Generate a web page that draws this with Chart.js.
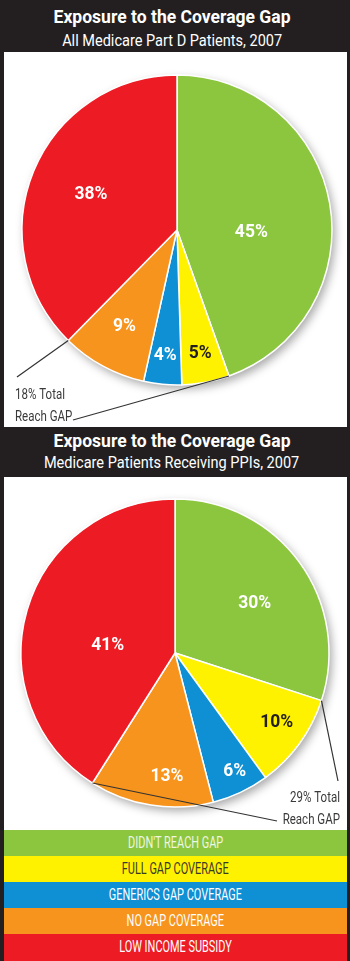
<!DOCTYPE html>
<html>
<head>
<meta charset="utf-8">
<script src="https://cdn.jsdelivr.net/npm/chart.js@4.4.0/dist/chart.umd.min.js"></script>
<style>
  html, body { margin:0; padding:0; }
  body { width:350px; height:961px; background:#231f20; position:relative; overflow:hidden; font-family:Roboto, sans-serif; }
  .line { position:absolute; left:0; width:344px; text-align:center; white-space:nowrap; color:#fff; }
  .line span { display:inline-block; transform-origin:50% 50%; }
  .panel { position:absolute; left:4px; width:343px; background:#fff; }
  .panel canvas { position:absolute; left:0; top:0; }
  #legend { position:absolute; left:4px; top:830px; width:343px; }
  #legend div { height:26px; line-height:26px; text-align:center; white-space:nowrap; }
  #legend span { display:inline-block; }
</style>
</head>
<body>
<div class="line" id="t1" style="top:6px;"></div>
<div class="line" id="s1" style="top:31px;"></div>
<div class="panel" style="top:52px;height:375px;"><canvas id="c1" width="343" height="375"></canvas></div>
<div class="line" id="t2" style="top:430px;"></div>
<div class="line" id="s2" style="top:453px;"></div>
<div class="panel" style="top:477px;height:353px;"><canvas id="c2" width="343" height="353"></canvas></div>
<div id="legend"></div>
<script>
// ---- data ----
const categories = ["DIDN'T REACH GAP", "FULL GAP COVERAGE", "GENERICS GAP COVERAGE", "NO GAP COVERAGE", "LOW INCOME SUBSIDY"];
const allPartD = [45, 5, 4, 9, 38];
const ppiPatients = [30, 10, 6, 13, 41];
const title1 = "Exposure to the Coverage Gap";
const subtitle1 = "All Medicare Part D Patients, 2007";
const title2 = "Exposure to the Coverage Gap";
const subtitle2 = "Medicare Patients Receiving PPIs, 2007";
const note1 = ["18% Total", "Reach GAP"];
const note2 = ["29% Total", "Reach GAP"];

// ---- styles ----
const colors = ["#8cc63f", "#fff200", "#0f8fd4", "#f7941d", "#ed1c24"];
const legendText = ["#eef5e2", "#3a3a2a", "#ffffff", "#ffffff", "#ffffff"];
const labelText = ["#ffffff", "#231f20", "#ffffff", "#ffffff", "#ffffff"];
const FONT = 'Roboto, sans-serif';

const mctx = document.createElement('canvas').getContext('2d');
function measure(font, text) { mctx.font = font; return mctx.measureText(text).width; }

// condensed look: horizontal squeeze factors derived from reference widths
const TITLE_FONT = 'bold 18.5px ' + FONT;
const SUB_FONT = '16px ' + FONT;
const LEG_FONT = '16px ' + FONT;
const PCT_FONT = 'bold 18.5px ' + FONT;
const NOTE_FONT = '14px ' + FONT;
const titleScale = 237 / measure(TITLE_FONT, title1);
const subScale = 220 / measure(SUB_FONT, subtitle1);
const legScale = 133 / measure(LEG_FONT, categories[2]);
const pctScale = 33 / measure(PCT_FONT, '45%');
const noteScale = 50 / measure(NOTE_FONT, '18% Total');

function setLine(id, text, font, scale) {
  const el = document.getElementById(id);
  const sp = document.createElement('span');
  sp.textContent = text;
  sp.style.font = font;
  sp.style.transform = 'scaleX(' + scale + ')';
  el.appendChild(sp);
}
setLine('t1', title1, TITLE_FONT, titleScale);
setLine('s1', subtitle1, SUB_FONT, subScale);
setLine('t2', title2, TITLE_FONT, titleScale);
setLine('s2', subtitle2, SUB_FONT, subScale);

const leg = document.getElementById('legend');
categories.forEach((c, i) => {
  const d = document.createElement('div');
  d.style.background = colors[i];
  d.style.color = legendText[i];
  const sp = document.createElement('span');
  sp.textContent = c;
  sp.style.font = LEG_FONT;
  sp.style.transform = 'scaleX(' + legScale + ')';
  d.appendChild(sp);
  if (i === 4) d.style.height = '28px';
  leg.appendChild(d);
});

function squeezeText(ctx, text, x, y, s) {
  ctx.save();
  ctx.translate(x, y);
  ctx.scale(s, 1);
  ctx.fillText(text, 0, 0);
  ctx.restore();
}

const shadowPlugin = {
  id: 'shadow',
  beforeDatasetsDraw(chart) {
    const arc = chart.getDatasetMeta(0).data[0];
    const ctx = chart.ctx;
    ctx.save();
    ctx.shadowColor = 'rgba(0,0,0,0.35)';
    ctx.shadowBlur = 10;
    ctx.shadowOffsetX = 3;
    ctx.shadowOffsetY = 4;
    ctx.fillStyle = '#fff';
    ctx.beginPath();
    ctx.arc(arc.x, arc.y, arc.outerRadius, 0, Math.PI * 2);
    ctx.fill();
    ctx.restore();
  }
};

const labelPlugin = {
  id: 'pctLabels',
  afterDatasetsDraw(chart, args, opts) {
    const meta = chart.getDatasetMeta(0);
    const data = chart.data.datasets[0].data;
    const ctx = chart.ctx;
    ctx.save();
    ctx.font = PCT_FONT;
    ctx.textAlign = 'center';
    ctx.textBaseline = 'middle';
    meta.data.forEach((arc, i) => {
      const p = opts.place[i];
      const mid = (arc.startAngle + arc.endAngle) / 2 + p.a * Math.PI / 180;
      const r = arc.outerRadius * p.r;
      ctx.fillStyle = labelText[i];
      squeezeText(ctx, data[i] + '%', arc.x + Math.cos(mid) * r, arc.y + Math.sin(mid) * r, pctScale);
    });
    ctx.strokeStyle = '#333';
    ctx.lineWidth = 1.2;
    opts.lines.forEach(l => {
      const arc = meta.data[l.slice];
      const ang = l.edge === 'start' ? arc.startAngle : arc.endAngle;
      ctx.beginPath();
      ctx.moveTo(arc.x + Math.cos(ang) * arc.outerRadius, arc.y + Math.sin(ang) * arc.outerRadius);
      ctx.lineTo(l.to[0], l.to[1]);
      ctx.stroke();
    });
    ctx.fillStyle = '#3a3a3a';
    ctx.font = NOTE_FONT;
    ctx.textBaseline = 'alphabetic';
    ctx.textAlign = opts.note.align;
    opts.note.text.forEach((t, k) => squeezeText(ctx, t, opts.note.x, opts.note.y + k * 22, noteScale));
    ctx.restore();
  }
};

function makePie(id, values, padding, radius, place, lines, note) {
  return new Chart(document.getElementById(id), {
    type: 'pie',
    data: {
      labels: categories,
      datasets: [{ data: values, backgroundColor: colors, borderColor: '#ffffff', borderWidth: 1.5 }]
    },
    options: {
      responsive: false,
      animation: false,
      radius: radius,
      layout: { padding: padding },
      plugins: {
        legend: { display: false },
        tooltip: { enabled: false },
        pctLabels: { place: place, lines: lines, note: note }
      }
    },
    plugins: [shadowPlugin, labelPlugin]
  });
}

makePie('c1', allPartD, { left: 13, right: 10, top: 18, bottom: 37 }, 155,
  [{ r: 0.48, a: 12 }, { r: 0.81, a: 0 }, { r: 0.81, a: 0 }, { r: 0.71, a: 0 }, { r: 0.6, a: 0 }],
  [{ slice: 4, edge: 'start', to: [13, 325] }, { slice: 0, edge: 'end', to: [69, 368] }],
  { text: note1, x: 11, y: 347, align: 'left' });

makePie('c2', ppiPatients, { left: 11, right: 12, top: 16, bottom: 17 }, 154,
  [{ r: 0.61, a: 4 }, { r: 0.8, a: -1.6 }, { r: 0.86, a: -1.6 }, { r: 0.8, a: -5.3 }, { r: 0.44, a: -9.5 }],
  [{ slice: 0, edge: 'end', to: [334, 304] }, { slice: 4, edge: 'start', to: [273, 344] }],
  { text: note2, x: 336, y: 325, align: 'right' });
</script>
</body>
</html>
